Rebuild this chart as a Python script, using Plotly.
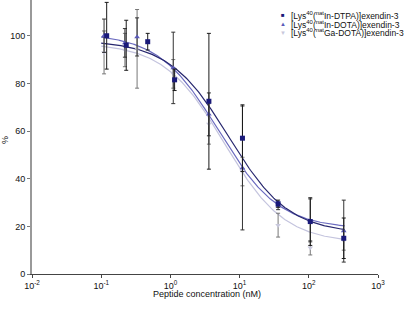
import numpy as np
import plotly.graph_objects as go

# ---- data ----
series_names = [
    "[Lys<sup>40</sup>(<sup>nat</sup>In-DTPA)]exendin-3",
    "[Lys<sup>40</sup>(<sup>nat</sup>In-DOTA)]exendin-3",
    "[Lys<sup>40</sup>(<sup>nat</sup>Ga-DOTA)]exendin-3",
]
x_dtpa = [0.12, 0.23, 0.47, 1.15, 3.6, 11, 36, 105, 320]
y_dtpa = [100, 96, 97.5, 81.5, 72.5, 57, 29.5, 22, 15]
e_dtpa = [14, 10.5, 3.5, 4.5, 28.5, 14, 1.5, 10, 8.5]

x_indota = [0.11, 0.22, 0.33, 1.1, 3.6, 11, 36, 105, 320]
y_indota = [100, 97, 99.5, 86.5, 67, 44.5, 28.5, 22.5, 18]
e_indota = [7, 6, 8, 15, 9, 26, 1.5, 9, 13]

x_gadota = [0.11, 0.22, 0.33, 1.1, 3.6, 11, 36, 105, 320]
y_gadota = [93, 94, 94.5, 84, 63, 43, 20.5, 11, 14]
e_gadota = [9, 7, 16.5, 6, 8.5, 6, 5, 3, 4]

# sigmoidal fit parameters (top, bottom, IC50 nM, Hill slope)
fit_top = [98, 101, 97]
fit_bottom = [17, 19, 13]
fit_ic50 = [7, 5, 6]
fit_hill = [1, 1, 1]
fit_range = [0.1, 330]

x_tickvals = [0.01, 0.1, 1, 10, 100, 1000]
x_ticktext = ["10<sup>-2</sup>", "10<sup>-1</sup>", "10<sup>0</sup>",
              "10<sup>1</sup>", "10<sup>2</sup>", "10<sup>3</sup>"]
y_tickvals = [0, 20, 40, 60, 80, 100]

# ---- styles ----
line_colors = ["#26266e", "#6a6abf", "#c4c4de"]
marker_colors = ["#1a1a7a", "#5a5ab8", "#c8c8dc"]
marker_symbols = ["square", "triangle-up", "triangle-down"]
err_colors = ["#1a1a1a", "#333333", "#777777"]
FONT = "Liberation Sans, Arial, sans-serif"

L, R, T, B = 32, 38, 0, 35
W, H = 416, 309
PW, PH = W - L - R, H - T - B


def px_x(p):
    return (p - L) / PW


def px_y(p):
    return (H - B - p) / PH


fig = go.Figure()

xs = [x_dtpa, x_indota, x_gadota]
ys = [y_dtpa, y_indota, y_gadota]
es = [e_dtpa, e_indota, e_gadota]

# fitted curves
xc = np.logspace(np.log10(fit_range[0]), np.log10(fit_range[1]), 200)
for i in [2, 1, 0]:
    yc = fit_bottom[i] + (fit_top[i] - fit_bottom[i]) / (
        1 + 10 ** ((np.log10(xc) - np.log10(fit_ic50[i])) * fit_hill[i]))
    fig.add_trace(go.Scatter(x=xc, y=yc, mode="lines",
                             line=dict(color=line_colors[i], width=1.2),
                             showlegend=False, hoverinfo="skip"))

# data points with error bars
for i in [2, 1, 0]:
    fig.add_trace(go.Scatter(
        x=xs[i], y=ys[i], mode="markers",
        marker=dict(symbol=marker_symbols[i], size=5, color=marker_colors[i]),
        error_y=dict(type="data", array=es[i], visible=True,
                     color=err_colors[i], thickness=1, width=2),
        showlegend=False, name=series_names[i]))

# compact legend
leg_y = [15.5, 24, 32.5]
for i in range(3):
    sym = ["■", "▲", "▼"][i]
    fig.add_annotation(x=px_x(283), y=px_y(leg_y[i]), xref="paper", yref="paper",
                       text=sym, showarrow=False, xanchor="center", yanchor="middle",
                       font=dict(family=FONT, size=6, color=marker_colors[i]))
    fig.add_annotation(x=px_x(290), y=px_y(leg_y[i]), xref="paper", yref="paper",
                       text=series_names[i], showarrow=False,
                       xanchor="left", yanchor="middle", borderpad=0,
                       font=dict(family=FONT, size=8.5, color="#111111"))

# axis titles
fig.add_annotation(x=px_x(207), y=px_y(294), xref="paper", yref="paper",
                   text="Peptide concentration (nM)", showarrow=False,
                   xanchor="center", yanchor="middle",
                   font=dict(family=FONT, size=9, color="#111111"))
fig.add_annotation(x=px_x(5), y=px_y(140), xref="paper", yref="paper",
                   text="%", textangle=-90, showarrow=False,
                   xanchor="center", yanchor="middle",
                   font=dict(family=FONT, size=9, color="#111111"))

fig.update_layout(
    width=W, height=H,
    margin=dict(l=L, r=R, t=T, b=B, autoexpand=False),
    paper_bgcolor="white", plot_bgcolor="white",
    font=dict(family=FONT, size=9, color="#111111"),
    hovermode=False,
    xaxis=dict(type="log", range=[-2, 3], tickvals=x_tickvals, ticktext=x_ticktext,
               showgrid=False, zeroline=False, showline=True, linecolor="#444444",
               linewidth=1, ticks="outside", ticklen=3, tickcolor="#444444",
               tickfont=dict(family=FONT, size=9), automargin=False),
    yaxis=dict(range=[0, 115], tickvals=y_tickvals, showgrid=False, zeroline=False,
               showline=True, linecolor="#999999", linewidth=2, ticks="outside",
               ticklen=3, tickcolor="#777777", tickfont=dict(family=FONT, size=9),
               automargin=False),
)

fig.write_html("out.html", config={"displayModeBar": False, "staticPlot": True},
               post_script="document.body.style.margin='0';document.body.style.overflow='hidden';")
